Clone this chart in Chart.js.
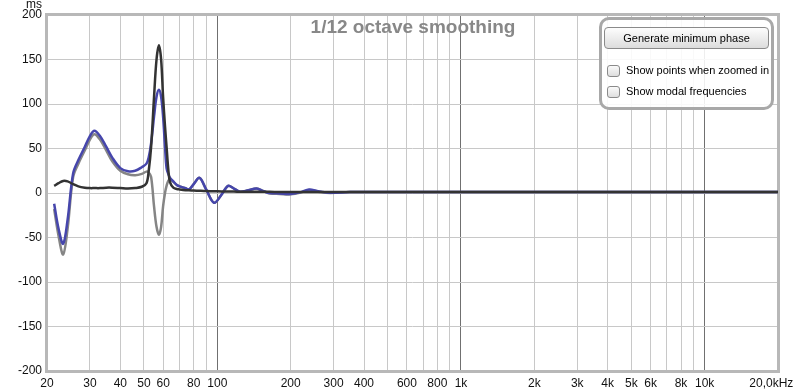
<!DOCTYPE html>
<html>
<head>
<meta charset="utf-8">
<script src="https://cdn.jsdelivr.net/npm/chart.js@4"></script>
<style>
  body { margin: 0; background: #fff; font-family: "Liberation Sans", Arial, sans-serif; }
  #wrap { position: relative; width: 800px; height: 390px; }
  #title { position: absolute; left: 263px; width: 300px; top: 16px; text-align: center;
           font-weight: bold; font-size: 19px; color: #888; }
  #panel { position: absolute; left: 599px; top: 17px; width: 175px; height: 93px; box-sizing: border-box;
           border: 3px solid #a8a8a8; border-radius: 10px; background: rgba(255,255,255,0.88); }
  #btn { position: absolute; left: 2px; top: 7px; width: 165px; height: 22px; box-sizing: border-box;
         border: 1px solid #8a8a8a; border-radius: 4px; background: linear-gradient(#fdfdfd, #dcdcdc);
         font-size: 11px; line-height: 20px; text-align: center; color: #000; }
  .cb { position: absolute; left: 5px; width: 13px; height: 12px; box-sizing: border-box;
        border: 1px solid #8a8a8a; border-radius: 3px; background: linear-gradient(#fafafa, #dedede); }
  .lbl { position: absolute; left: 24px; font-size: 11px; line-height: 13px; color: #000; white-space: nowrap; }
</style>
</head>
<body>
<div id="wrap">
  <canvas id="chart" width="800" height="390"></canvas>
  <div id="title">1/12 octave smoothing</div>
  <div id="panel">
    <div id="btn">Generate minimum phase</div>
    <div class="cb" style="top:45px"></div>
    <div class="lbl" style="top:44px">Show points when zoomed in</div>
    <div class="cb" style="top:66px"></div>
    <div class="lbl" style="top:65px">Show modal frequencies</div>
  </div>
</div>
<script>
// frecuencias en Hz
const freqs = [21.4, 22.3, 23.3, 24.3, 25.6, 26.9, 28.6, 30, 31.3, 33, 35, 37,
  40, 43, 46, 49, 51.2, 52.3, 53.5, 55, 56.3, 57.6, 58.8, 59.9,
  61, 61.9, 63, 64, 66, 68.2, 70, 74, 76.5, 80, 84.5, 90,
  97, 104, 110.7, 117, 124, 134, 145, 155, 164, 180, 200, 220,
  238, 260, 290, 350, 500, 1000, 2000, 5000, 10000, 20000];

// group delay medido (azul), ms
const groupDelay = [-12, -40, -57, -30, 22, 37, 52, 64, 70, 64, 52, 40,
  28, 24.5, 25, 29, 33, 40, 56, 86, 108, 116, 108, 86,
  52, 28, 21, 17, 13, 9, 7.5, 5.3, 4, 10, 17, 4,
  -11, -2, 8, 5, 1.5, 3, 5, 2, 0, -0.5, -1, 1,
  4, 2, 0.3, 1, 1, 1, 1, 1, 1, 1];

// excess group delay (gris), ms
const excessDelay = [-18, -48, -69, -40, 18, 33, 48, 60, 66, 60, 48, 36,
  25, 21, 20, 21.5, 24, 23, 18, -15, -38, -47, -38, -15,
  0, 8, 14, 15, 12.5, 9, 7.5, 5.3, 4, 10, 17, 4,
  -11, -2, 8, 5, 1.5, 3, 5, 2, -0.5, -1, -1.5, 0.5,
  3.5, 1.5, 0, 1, 1, 1, 1, 1, 1, 1];

// minimum phase group delay (oscuro), ms
const minPhaseDelay = [8, 11, 13.5, 13, 10, 7.5, 6, 5.5, 5.5, 5.5, 6, 6,
  5.5, 5, 5.5, 7, 11, 25, 52, 108, 150, 166, 150, 108,
  75, 52, 25, 12, 6, 4.5, 4, 3.2, 3, 2.8, 2.5, 2.2,
  2, 1.8, 1.7, 1.6, 1.5, 1.5, 1.4, 1.3, 1.3, 1.2, 1.2, 1.1,
  1.1, 1.1, 1, 1, 1, 1, 1, 1, 1, 1];

const tickValues = [20, 30, 40, 50, 60, 70, 80, 90, 100, 200, 300, 400, 500, 600, 700, 800, 900,
  1000, 2000, 3000, 4000, 5000, 6000, 7000, 8000, 9000, 10000, 20000];
const tickLabels = ['20', '30', '40', '50', '60', '', '80', '', '100', '200', '300', '400', '', '600', '', '800', '',
  '1k', '2k', '3k', '4k', '5k', '6k', '', '8k', '', '10k', '20,0kHz    '];
const decadeTicks = [100, 1000, 10000];

Chart.defaults.font.family = '"Liberation Sans", Arial, sans-serif';
Chart.defaults.font.size = 12;
Chart.defaults.color = '#111';

function toPoints(values) {
  return freqs.map((f, i) => ({ x: f, y: values[i] }));
}

const frame = {
  id: 'frame',
  beforeDatasetsDraw(chart) {
    const { ctx, chartArea: a } = chart;
    ctx.save();
    ctx.strokeStyle = '#b8b8b8';
    ctx.lineWidth = 3;
    ctx.strokeRect(a.left - 0.5, a.top - 0.5, a.right - a.left + 1, a.bottom - a.top + 1);
    ctx.fillStyle = '#111';
    ctx.font = '12px "Liberation Sans", Arial, sans-serif';
    ctx.textAlign = 'right';
    ctx.fillText('ms', 42, 8);
    ctx.restore();
  }
};

const noPad = scale => {
  scale.paddingLeft = 0; scale.paddingRight = 0;
  scale.paddingTop = 0; scale.paddingBottom = 0;
};

new Chart(document.getElementById('chart'), {
  type: 'line',
  data: {
    datasets: [
      { label: 'Minimum phase', data: toPoints(minPhaseDelay), borderColor: '#333333' },
      { label: 'Group delay', data: toPoints(groupDelay), borderColor: '#4646ac' },
      { label: 'Excess group delay', data: toPoints(excessDelay), borderColor: '#858585' }
    ]
  },
  options: {
    responsive: false,
    animation: false,
    events: [],
    layout: { padding: { left: 0, right: 22, top: 15, bottom: 0 } },
    elements: {
      line: { borderWidth: 2.5, tension: 0.35 },
      point: { radius: 0 }
    },
    plugins: { legend: { display: false }, tooltip: { enabled: false } },
    scales: {
      x: {
        type: 'logarithmic',
        min: 20,
        max: 20000,
        afterBuildTicks: scale => { scale.ticks = tickValues.map(v => ({ value: v })); },
        afterFit: scale => { scale.height = 19; noPad(scale); },
        ticks: {
          autoSkip: false,
          maxRotation: 0,
          padding: 5,
          callback: (v) => tickLabels[tickValues.indexOf(v)] ?? ''
        },
        grid: {
          drawTicks: false,
          color: ctx => decadeTicks.includes(ctx.tick && ctx.tick.value) ? '#707070' : '#c8c8c8'
        },
        border: { display: false }
      },
      y: {
        min: -200,
        max: 200,
        afterFit: scale => { scale.width = 47; noPad(scale); },
        ticks: { stepSize: 50, padding: 5 },
        grid: { drawTicks: false, color: '#c8c8c8' },
        border: { display: false }
      }
    }
  },
  plugins: [frame]
});
</script>
</body>
</html>
